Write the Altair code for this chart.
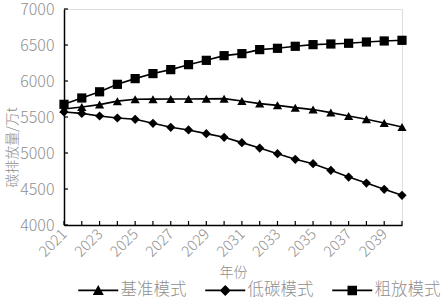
import altair as alt
import pandas as pd

years = list(range(2021, 2041))
label_years = [2021, 2023, 2025, 2027, 2029, 2031, 2033, 2035, 2037, 2039]
series_names = ["基准模式", "低碳模式", "粗放模式"]
base_vals = [5610, 5640, 5672, 5720, 5746, 5748, 5750, 5750, 5752, 5755,
             5722, 5686, 5662, 5630, 5603, 5561, 5514, 5468, 5417, 5361]
low_vals = [5570, 5550, 5514, 5486, 5468, 5412, 5357, 5320, 5269, 5218,
            5144, 5069, 4991, 4912, 4852, 4759, 4666, 4583, 4495, 4412]
high_vals = [5676, 5764, 5850, 5954, 6033, 6103, 6158, 6227, 6287, 6352,
             6380, 6436, 6454, 6482, 6505, 6514, 6524, 6542, 6556, 6565]
y_ticks = [4000, 4500, 5000, 5500, 6000, 6500, 7000]
marker_shapes = ["triangle-up", "diamond", "square"]

rows = []
for name, vals in zip(series_names, [base_vals, low_vals, high_vals]):
    for yr, v in zip(years, vals):
        rows.append({"年份": yr, "值": v, "模式": name})
df = pd.DataFrame(rows)
# tick positions along the axes (x ticks sit on y=min, y ticks on x=first year)
df_xt = pd.DataFrame({"年份": years, "值": [y_ticks[0]] * len(years)})
df_yt = pd.DataFrame({"年份": [years[0]] * len(y_ticks), "值": y_ticks})

FONT = "Noto Sans CJK SC"
GRAY = "#8f8f8f"

x_scale = alt.Scale(type="point", domain=years, padding=0)
y_scale = alt.Scale(domain=[4000, 7000], nice=False, zero=False)

x_axis = alt.Axis(title="年份", values=label_years, tickSize=0,
                  labelAngle=-45, labelAlign="right", labelBaseline="middle",
                  labelPadding=6, labelFontSize=15, labelColor=GRAY, labelFont=FONT,
                  labelFontWeight=300,
                  titleFontSize=14, titleColor=GRAY, titleFont=FONT, titleFontWeight=300,
                  titleY=47, titleBaseline="middle",
                  domainColor="black", domainWidth=1.5, grid=False,
                  labelOverlap=False)
y_axis = alt.Axis(title="碳排放量/万t", values=y_ticks, tickSize=0, format="d",
                  labelPadding=10, labelFontSize=16, labelColor=GRAY, labelFont=FONT,
                  labelFontWeight=300, labelOverlap=False,
                  titleFontSize=14, titleColor=GRAY, titleFont=FONT, titleFontWeight=300,
                  titleX=-52, titleY=138, titleAnchor="middle", titleAlign="center",
                  titleBaseline="middle",
                  domainColor="black", domainWidth=1.5, grid=False)

xq = alt.X("年份:O", scale=x_scale, sort=None, axis=x_axis)
yq = alt.Y("值:Q", scale=y_scale, axis=y_axis)

lines = alt.Chart(df).mark_line(color="black", strokeWidth=1.6).encode(
    x=xq, y=yq, detail="模式:N")

point_layers = []
for name, shp in zip(series_names, marker_shapes):
    point_layers.append(
        alt.Chart(df).transform_filter(alt.datum["模式"] == name)
        .mark_point(filled=True, color="black", opacity=1, size=85, shape=shp)
        .encode(x=xq, y=yq))

leg_paths = [
    "M-4,-0.16H4V0.16H-4ZM0,-1.1L1.1,0.9L-1.1,0.9Z",
    "M-4,-0.16H4V0.16H-4ZM0,-1.1L1.1,0L0,1.1L-1.1,0Z",
    "M-4,-0.16H4V0.16H-4ZM-0.95,-0.95H0.95V0.95H-0.95Z",
]
legend_layer = alt.Chart(df).mark_point(filled=True, color="black", opacity=0, size=100).encode(
    x=xq, y=yq,
    shape=alt.Shape("模式:N", scale=alt.Scale(domain=series_names, range=leg_paths),
                    legend=alt.Legend(title=None, orient="none", direction="horizontal",
                                      legendX=26, legendY=273,
                                      symbolOpacity=1, symbolFillColor="black",
                                      symbolStrokeColor="black", symbolStrokeWidth=0,
                                      symbolSize=100, labelOffset=14, columnPadding=18,
                                      labelFontSize=16.5, labelColor=GRAY, labelFont=FONT,
                                      labelFontWeight=300)))

xticks = alt.Chart(df_xt).mark_rule(color="black", strokeWidth=1.2, y2Offset=-4).encode(
    x=xq, y=yq, y2="值:Q")
yticks = alt.Chart(df_yt).mark_rule(color="black", strokeWidth=1.2, x2Offset=4).encode(
    y=yq, x=xq, x2="年份:O")

chart = alt.layer(lines, xticks, yticks, *point_layers, legend_layer).properties(
    width=338, height=216,
    autosize=alt.AutoSizeParams(type="none"),
    padding={"left": 64, "top": 9, "right": 46, "bottom": 74},
).configure_view(stroke=None).configure_axis(labelOverlap=False).configure(background="white")

chart.save("out.html", embed_options={"renderer": "svg", "actions": False})
